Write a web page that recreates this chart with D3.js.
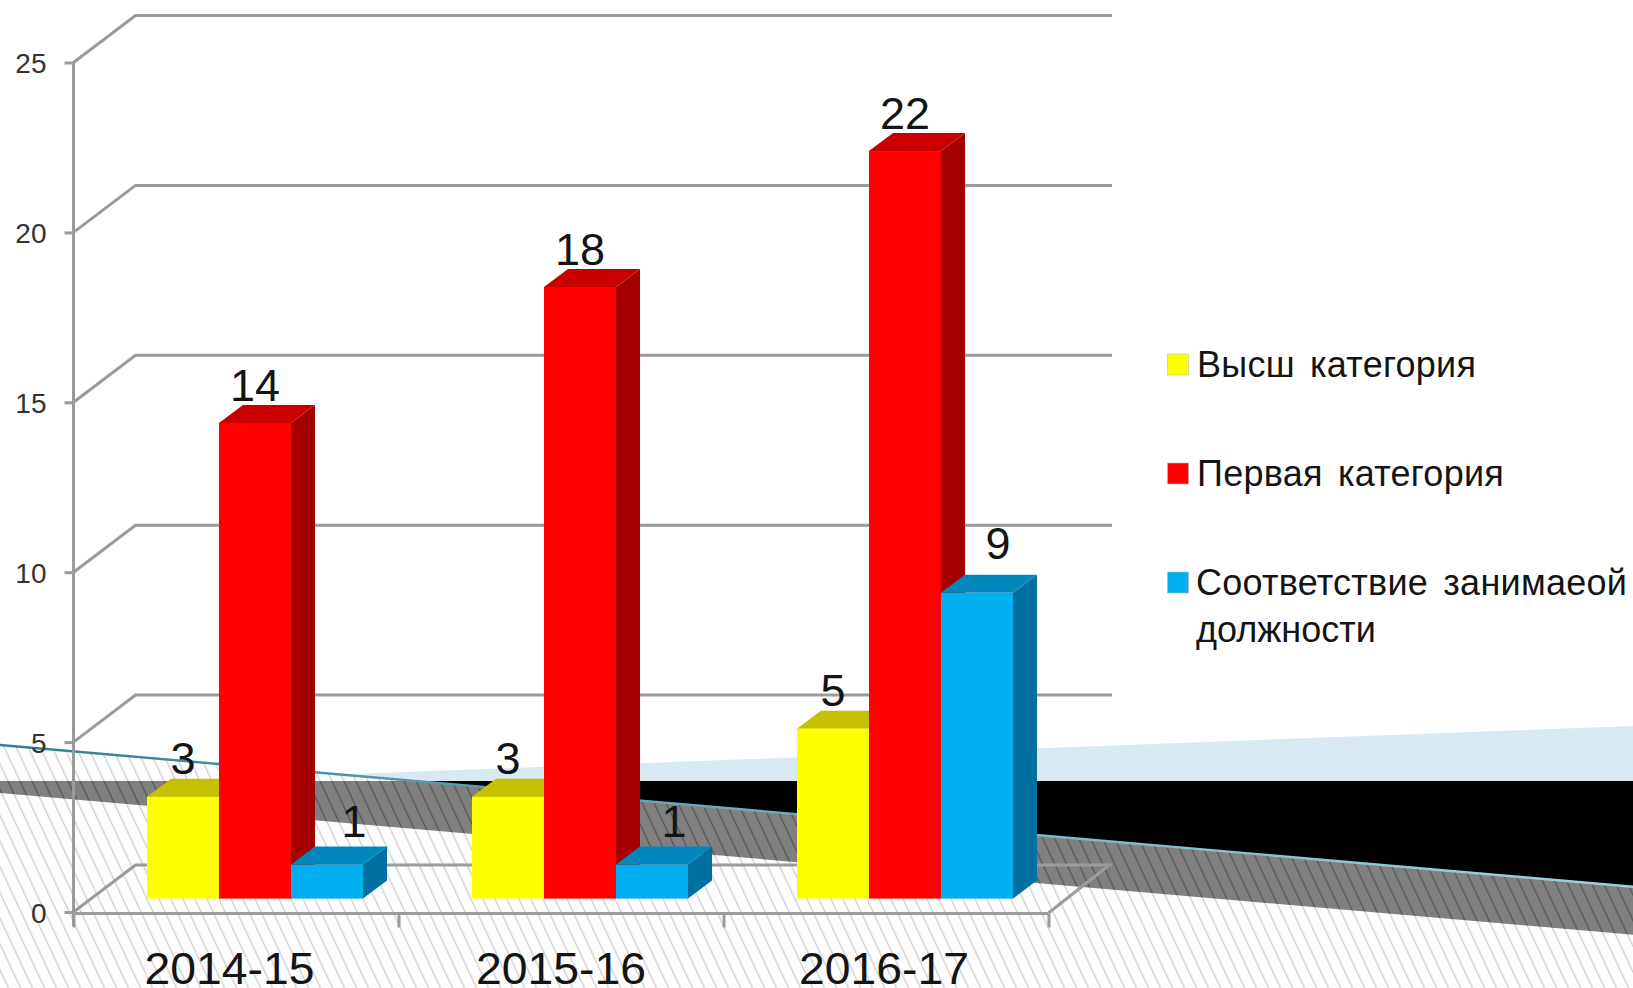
<!DOCTYPE html>
<html><head><meta charset="utf-8">
<script src="https://cdn.jsdelivr.net/npm/d3@7"></script>
<style>html,body{margin:0;padding:0;background:#fff;overflow:hidden}svg{display:block}text{font-family:"Liberation Sans",Arial,sans-serif;fill:#141414}</style>
</head><body><div id="c"></div>
<script>
const categories = ["2014-15","2015-16","2016-17"];
const seriesNames = ["Высш категория","Первая категория","Соответствие занимаеой"];
const legendContinuation = "должности";
const highest = [3,3,5];
const first = [14,18,22];
const conforming = [1,1,9];
const yTicks = [0,5,10,15,20,25];
const faceColors = ["#ffff00","#ff0000","#00b0f0"];
const topColors = ["#c6c000","#c80000","#0088bc"];
const sideColors = ["#a0a000","#a50000","#0070a0"];
const values = [highest, first, conforming];

const W=1633,H=988;
const svg=d3.select("#c").append("svg").attr("width",W).attr("height",H);
const defs=svg.append("defs");
function hatch(id,bg,line,w){
  const p=defs.append("pattern").attr("id",id).attr("patternUnits","userSpaceOnUse")
    .attr("width",12).attr("height",20).attr("patternTransform","skewX(25)");
  p.append("rect").attr("width",12).attr("height",20).attr("fill",bg);
  p.append("rect").attr("x",3).attr("width",w).attr("height",20).attr("fill",line);
}
hatch("hLight","#fdfdfd","#cfcfcf",1.4);
hatch("hDark","#808080","#565656",1.4);
const grad=defs.append("linearGradient").attr("id","teal").attr("gradientUnits","userSpaceOnUse")
  .attr("x1",0).attr("x2",W).attr("y1",0).attr("y2",0);
grad.append("stop").attr("offset",0).attr("stop-color","#2f7d96");
grad.append("stop").attr("offset",.3).attr("stop-color","#5f9db2");
grad.append("stop").attr("offset",1).attr("stop-color","#9fd2dc");

// decorative background
const line=d3.line();
const bg=svg.append("g");
const slopeAt=(y0,x)=>y0+0.0868*x;
bg.append("path").attr("d",line([[0,745],[W,slopeAt(745,W)],[W,H],[0,H]])+"Z").attr("fill","url(#hLight)");
bg.append("path").attr("d",line([[340,774.5],[W,726],[W,781],[415,781]])+"Z").attr("fill","#d8e9f1");
bg.append("path").attr("d",line([[415,781],[W,781],[W,slopeAt(745,W)]])+"Z").attr("fill","#000");
bg.append("path").attr("d",line([[0,781],[415,781],[W,slopeAt(745,W)],[W,slopeAt(793,W)],[0,793]])+"Z").attr("fill","url(#hDark)");
bg.append("path").attr("d",line([[0,745],[W,slopeAt(745,W)]])).attr("stroke","url(#teal)").attr("stroke-width",2.4).attr("fill","none");

// scales
const axisX=73.5, axisRight=1048.5;
const y=d3.scaleLinear().domain([0,25]).range([912,62.5]);
const x=d3.scaleBand().domain(categories).range([axisX,axisRight]);
const xSeries=d3.scaleBand().domain(d3.range(3)).range([73.5,73.5+216]);
const xEdges=d3.scaleLinear().domain([0,3]).range([axisX,axisRight]);
const wallDx=62, wallDy=47, baseShift=13.4, barDx=24, barDy=18;
const gridColor="#9b9b9b";
const yBar=v=>y(v)-baseShift;

// grid
const grid=svg.append("g").attr("fill","none").attr("stroke",gridColor).attr("stroke-width",3);
yTicks.forEach(t=>{
  grid.append("path").attr("d",line([[axisX,y(t)],[axisX+wallDx,y(t)-wallDy],[1112,y(t)-wallDy]]));
});
grid.append("path").attr("d",line([[axisRight,y(0)+1],[1108,y(0)-wallDy+1]]));

// axes
const gy=svg.append("g").attr("transform",`translate(${axisX},0)`)
  .call(d3.axisLeft(y).tickValues(yTicks).tickSize(9).tickPadding(18));
gy.selectAll("text").attr("font-size",28).attr("dy","0.36em").style("font-family",'"Liberation Sans"').style("fill","#333");
gy.selectAll("line,path").attr("stroke",gridColor).attr("stroke-width",3);
gy.select(".domain").attr("d",`M0,${y(25)}V${y(0)+14}`);

const gx=svg.append("g").attr("transform",`translate(0,${y(0)+1.5})`)
  .call(d3.axisBottom(xEdges).tickValues(d3.range(4)).tickSize(14).tickFormat(""));
gx.selectAll("line,path").attr("stroke",gridColor).attr("stroke-width",3);
gx.select(".domain").attr("d",`M${axisX},0H${axisRight}`);

const gc=svg.append("g").attr("transform",`translate(0,984)`);
gc.selectAll("text").data(categories).join("text")
  .attr("x",(d,i)=>x(d)+x.bandwidth()/2-(i===0?6.5:i===2?2:0)).attr("text-anchor","middle")
  .attr("font-size",44).attr("textLength",170).attr("lengthAdjust","spacingAndGlyphs").text(d=>d);

// bars
const bars=svg.append("g");
categories.forEach((c,ci)=>{
  values.forEach((vals,si)=>{
    const v=vals[ci], x0=x(c)+xSeries(si), w=xSeries.bandwidth(), t=yBar(v), b=yBar(0);
    const g=bars.append("g");
    g.append("path").attr("fill",sideColors[si]).attr("d",line([[x0+w,t],[x0+w+barDx,t-barDy],[x0+w+barDx,b-barDy],[x0+w,b]])+"Z");
    g.append("path").attr("fill",topColors[si]).attr("d",line([[x0,t],[x0+barDx,t-barDy],[x0+w+barDx,t-barDy],[x0+w,t]])+"Z");
    g.append("rect").attr("x",x0).attr("y",t).attr("width",w).attr("height",b-t).attr("fill",faceColors[si]);
  });
});

// data labels
const labelDx=[[0,0,0],[0,0,0],[27,22,21]];
const labelDy=[[23,23,23],[22,22,22],[28,28,34]];
const labels=svg.append("g").attr("font-size",45).attr("text-anchor","middle");
categories.forEach((c,ci)=>{
  values.forEach((vals,si)=>{
    const v=vals[ci];
    labels.append("text").attr("x",x(c)+xSeries(si)+xSeries.bandwidth()/2+labelDx[si][ci])
      .attr("y",yBar(v)-labelDy[si][ci]).text(v);
  });
});

// legend
const legendRows=[377,486,595];
const lg=svg.append("g");
seriesNames.forEach((n,i)=>{
  lg.append("rect").attr("x",1167.5).attr("y",legendRows[i]-23).attr("width",21).attr("height",21)
    .attr("fill",faceColors[i]).attr("stroke","#bbb").attr("stroke-width",.6);
  lg.append("text").attr("x",i===2?1196:1197).attr("y",legendRows[i]).attr("font-size",36)
    .attr("letter-spacing",.25).attr("word-spacing",5).text(n);
});
lg.append("text").attr("x",1196).attr("y",642).attr("font-size",36).text(legendContinuation);
</script></body></html>
